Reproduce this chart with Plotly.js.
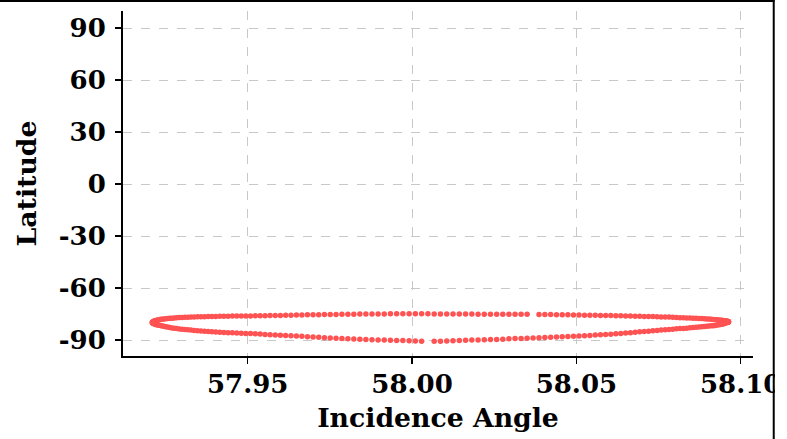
<!DOCTYPE html>
<html><head><meta charset="utf-8">
<script src="https://cdn.plot.ly/plotly-3.0.1.min.js"></script>
<style>html,body{margin:0;padding:0;background:#fff;} #chart{width:787px;height:439px;}</style>
</head><body><div id="chart"></div>
<script>
// Upper branch (left tip -> right tip)
const upperAngle = [
57.92100, 57.92102, 57.92108, 57.92119, 57.92133, 57.92152, 57.92175, 57.92202, 57.92233, 57.92268,
57.92308, 57.92351, 57.92399, 57.92450, 57.92506, 57.92565, 57.92629, 57.92696, 57.92767, 57.92842,
57.92921, 57.93004, 57.93090, 57.93180, 57.93274, 57.93372, 57.93473, 57.93577, 57.93685, 57.93797,
57.93911, 57.94029, 57.94151, 57.94275, 57.94403, 57.94534, 57.94667, 57.94804, 57.94943, 57.95086,
57.95231, 57.95379, 57.95529, 57.95682, 57.95838, 57.95995, 57.96156, 57.96318, 57.96482, 57.96649,
57.96818, 57.96988, 57.97161, 57.97335, 57.97511, 57.97688, 57.97867, 57.98048, 57.98229, 57.98412,
57.98596, 57.98782, 57.98968, 57.99155, 57.99343, 57.99532, 57.99721, 57.99911, 58.00101, 58.00292,
58.00483, 58.00674, 58.00865,
58.01056, 58.01247, 58.01438, 58.01629, 58.01819, 58.02009, 58.02198, 58.02387, 58.02575, 58.02762,
58.02948, 58.03134, 58.03318, 58.03501, 58.03863, 58.04042, 58.04219, 58.04395, 58.04569,
58.04742, 58.04912, 58.05081, 58.05248, 58.05412, 58.05574, 58.05735, 58.05892, 58.06048, 58.06201,
58.06351, 58.06499, 58.06644, 58.06787, 58.06926, 58.07063, 58.07196, 58.07327, 58.07455, 58.07579,
58.07701, 58.07819, 58.07933, 58.08045, 58.08153, 58.08257, 58.08358, 58.08456, 58.08550, 58.08640,
58.08726, 58.08809, 58.08888, 58.08963, 58.09034, 58.09101, 58.09165, 58.09224, 58.09280, 58.09331,
58.09379, 58.09422, 58.09462, 58.09497, 58.09528, 58.09555, 58.09578, 58.09597, 58.09611, 58.09622,
58.09628, 58.09630
];
const upperLat = [
-79.9, -79.8, -79.7, -79.5, -79.3, -79.1, -78.9, -78.8, -78.6, -78.4,
-78.3, -78.1, -78.0, -77.9, -77.8, -77.6, -77.5, -77.4, -77.3, -77.2,
-77.0, -76.95, -76.9, -76.85, -76.8, -76.7, -76.65, -76.6, -76.55, -76.5,
-76.45, -76.4, -76.35, -76.3, -76.25, -76.2, -76.2, -76.15, -76.1, -76.1,
-76.0, -76.0, -75.95, -75.9, -75.85, -75.8, -75.75, -75.7, -75.6, -75.55,
-75.5, -75.45, -75.4, -75.35, -75.3, -75.25, -75.2, -75.15, -75.1, -75.05,
-75.0, -75.0, -74.95, -74.95, -74.9, -74.9, -74.9, -74.9, -74.9, -74.9,
-74.9, -74.95, -74.95,
-75.0, -75.0, -75.0, -75.05, -75.05, -75.1, -75.1, -75.1, -75.1, -75.15,
-75.15, -75.15, -75.2, -75.2, -75.25, -75.3, -75.35, -75.4, -75.45,
-75.5, -75.55, -75.6, -75.65, -75.7, -75.75, -75.8, -75.85, -75.9, -76.0,
-76.05, -76.1, -76.2, -76.25, -76.3, -76.4, -76.45, -76.5, -76.6, -76.7,
-76.75, -76.8, -76.9, -77.0, -77.1, -77.15, -77.25, -77.3, -77.4, -77.5,
-77.55, -77.65, -77.75, -77.85, -77.95, -78.05, -78.15, -78.25, -78.35, -78.45,
-78.55, -78.65, -78.75, -78.85, -78.95, -79.05, -79.15, -79.2, -79.3, -79.35,
-79.4, -79.45
];
// Lower branch (right tip -> left tip)
const lowerAngle = [
58.09628, 58.09622, 58.09611, 58.09597, 58.09578, 58.09555, 58.09528, 58.09497, 58.09462, 58.09422,
58.09379, 58.09331, 58.09280, 58.09224, 58.09165, 58.09101, 58.09034, 58.08963, 58.08888, 58.08809,
58.08726, 58.08640, 58.08550, 58.08456, 58.08358, 58.08257, 58.08153, 58.08045, 58.07933, 58.07819,
58.07701, 58.07579, 58.07455, 58.07327, 58.07196, 58.07063, 58.06926, 58.06787, 58.06644, 58.06499,
58.06351, 58.06201, 58.06048, 58.05892, 58.05735, 58.05574, 58.05412, 58.05248, 58.05081, 58.04912,
58.04742, 58.04569, 58.04395, 58.04219, 58.04042, 58.03863, 58.03682, 58.03501, 58.03318, 58.03134,
58.02948, 58.02762, 58.02575, 58.02387, 58.02198, 58.02009, 58.01819, 58.01629, 58.01438, 58.01247,
58.01056, 58.00865, 58.00674, 58.00292, 58.00101, 57.99911, 57.99721, 57.99532, 57.99343, 57.99155,
57.98968, 57.98782, 57.98596, 57.98412, 57.98229, 57.98048, 57.97867, 57.97688, 57.97511, 57.97335,
57.97161, 57.96988, 57.96818, 57.96649, 57.96482, 57.96318, 57.96156, 57.95995, 57.95838, 57.95682,
57.95529, 57.95379, 57.95231, 57.95086, 57.94943, 57.94804, 57.94667, 57.94534, 57.94403, 57.94275,
57.94151, 57.94029, 57.93911, 57.93797, 57.93685, 57.93577, 57.93473, 57.93372, 57.93274, 57.93180,
57.93090, 57.93004, 57.92921, 57.92842, 57.92767, 57.92696, 57.92629, 57.92565, 57.92506, 57.92450,
57.92399, 57.92351, 57.92308, 57.92268, 57.92233, 57.92202, 57.92175, 57.92152, 57.92133, 57.92119,
57.92108, 57.92102
];
const lowerLat = [
-79.55, -79.65, -79.75, -79.85, -79.95, -80.1, -80.25, -80.45, -80.7, -80.9,
-81.05, -81.2, -81.4, -81.6, -81.75, -81.85, -81.95, -82.1, -82.25, -82.4,
-82.55, -82.7, -82.85, -83.0, -83.15, -83.3, -83.4, -83.55, -83.75, -83.9,
-84.1, -84.3, -84.5, -84.7, -84.9, -85.1, -85.31, -85.53, -85.75, -85.98,
-86.2, -86.45, -86.7, -86.85, -87.0, -87.15, -87.35, -87.55, -87.7, -87.85,
-88.0, -88.15, -88.3, -88.45, -88.55, -88.7, -88.8, -88.95, -89.1, -89.2,
-89.35, -89.5, -89.65, -89.75, -89.85, -89.95, -90.0, -90.1, -90.25, -90.4,
-90.55, -90.65, -90.75, -90.7, -90.6, -90.5, -90.35, -90.25, -90.15, -90.05,
-89.95, -89.85, -89.75, -89.6, -89.45, -89.3, -89.15, -89.0, -88.85, -88.65,
-88.45, -88.3, -88.1, -87.9, -87.75, -87.55, -87.4, -87.25, -87.1, -86.95,
-86.8, -86.6, -86.45, -86.3, -86.2, -86.1, -85.95, -85.85, -85.75, -85.65,
-85.55, -85.45, -85.3, -85.15, -85.0, -84.85, -84.7, -84.5, -84.3, -84.15,
-83.95, -83.8, -83.6, -83.4, -83.25, -83.05, -82.75, -82.55, -82.3, -82.1,
-81.9, -81.7, -81.5, -81.3, -81.15, -81.0, -80.8, -80.6, -80.45, -80.3,
-80.15, -80.0
];

const xTickVals = [57.95, 58.00, 58.05, 58.10];
const xTickText = ['57.95', '58.00', '58.05', '58.10'];
const yTickVals = [-90, -60, -30, 0, 30, 60, 90];
const yTickText = ['-90', '-60', '-30', '0', '30', '60', '90'];
const xTitle = 'Incidence Angle';
const yTitle = 'Latitude';

const fam = '"DejaVu Serif", serif';
const tickFont = {family: fam, size: 26, color: '#000', weight: 'bold'};
const titleFont = {family: fam, size: 26.7, color: '#000', weight: 'bold'};

const trace = {
  type: 'scatter', mode: 'markers',
  x: upperAngle.concat(lowerAngle),
  y: upperLat.concat(lowerLat),
  marker: {color: 'rgb(255,82,82)', size: 5.5, line: {width: 0}},
  hoverinfo: 'none'
};

const axisCommon = {
  showgrid: true, gridcolor: '#c8c8c8', griddash: 'dash', gridwidth: 1,
  showline: true, linecolor: '#000', linewidth: 2, mirror: false,
  ticks: 'outside', ticklen: 6, tickwidth: 1.5, tickcolor: '#000',
  zeroline: false, automargin: false, tickfont: tickFont
};

const layout = {
  width: 787, height: 439,
  margin: {l: 123, r: 34, t: 11, b: 83, pad: 0},
  paper_bgcolor: '#fff', plot_bgcolor: '#fff',
  showlegend: false,
  xaxis: Object.assign({}, axisCommon, {
    range: [57.91206, 58.10374], tickmode: 'array', tickvals: xTickVals, ticktext: xTickText,
    ticklabelstandoff: -2,
    title: {text: xTitle, font: titleFont, standoff: 10}
  }),
  yaxis: Object.assign({}, axisCommon, {
    range: [-99.23, 99.81], tickmode: 'array', tickvals: yTickVals, ticktext: yTickText,
    ticklabelstandoff: 4,
    title: {text: yTitle, font: titleFont, standoff: 14}
  }),
  shapes: [
    {type: 'rect', xref: 'paper', yref: 'paper', x0: 1.0349, x1: 1.07, y0: -0.26, y1: 1.06,
     fillcolor: '#fff', line: {width: 0}, layer: 'above'},
    {type: 'line', xref: 'paper', yref: 'paper', x0: -0.2, x1: 1.0341, y0: 1.0290, y1: 1.0290,
     line: {color: '#000', width: 2}, layer: 'above'},
    {type: 'line', xref: 'paper', yref: 'paper', x0: 1.0329, x1: 1.0329, y0: -0.25, y1: 1.032,
     line: {color: '#000', width: 2}, layer: 'above'}
  ]
};

Plotly.newPlot('chart', [trace], layout, {displayModeBar: false, staticPlot: true});
</script></body></html>
